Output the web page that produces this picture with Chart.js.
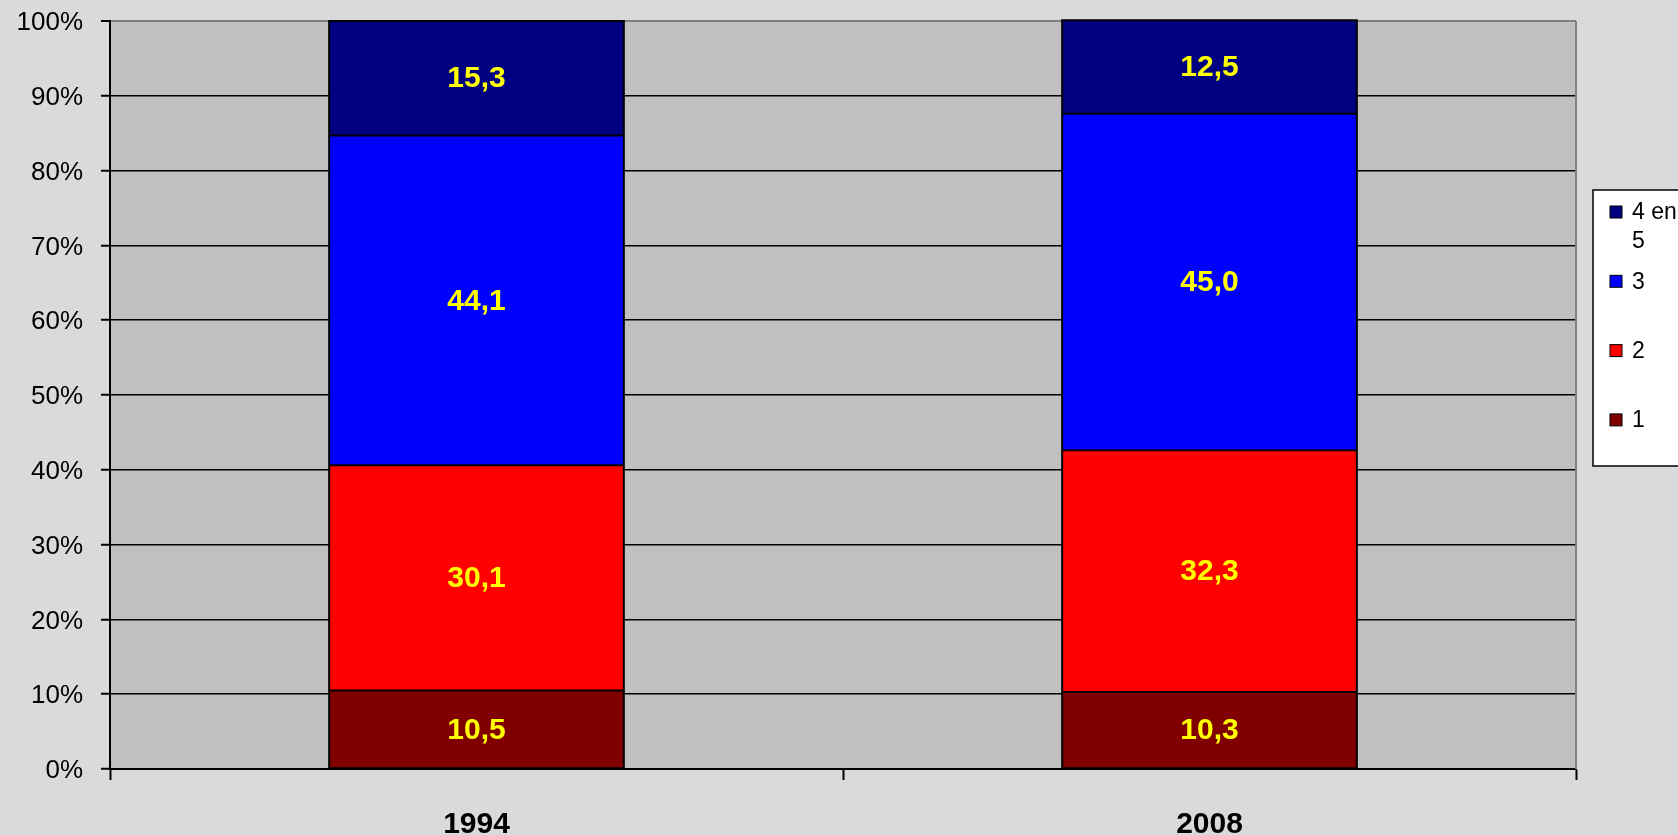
<!DOCTYPE html>
<html>
<head>
<meta charset="utf-8">
<script src="https://cdn.jsdelivr.net/npm/chart.js@4.4.1/dist/chart.umd.min.js"></script>
<style>
  html, body { margin: 0; padding: 0; background: #D9DADC; }
  #wrap { width: 1678px; height: 835px; }
</style>
</head>
<body>
<div id="wrap"><canvas id="c" width="1678" height="835"></canvas></div>
<script>
const categories = ['1994', '2008'];
const seriesLabels = ['1', '2', '3', '4 en 5'];
const series1 = [10.5, 10.3];
const series2 = [30.1, 32.3];
const series3 = [44.1, 45.0];
const series45 = [15.3, 12.5];
const yTicks = [0, 10, 20, 30, 40, 50, 60, 70, 80, 90, 100];

const colors = ['#800000', '#FF0000', '#0000FF', '#000080'];
const FONT = "'Liberation Sans', Arial, sans-serif";

const bgPlugin = {
  id: 'bg',
  beforeDraw(chart) {
    const { ctx, chartArea: a } = chart;
    ctx.save();
    ctx.fillStyle = '#D9DADC';
    ctx.fillRect(0, 0, chart.width, chart.height);
    ctx.fillStyle = '#C0C0C0';
    ctx.fillRect(a.left, a.top, a.right - a.left, a.bottom - a.top);
    ctx.restore();
  },
  beforeDatasetsDraw(chart) {
    const { ctx, chartArea: a } = chart;
    ctx.save();
    ctx.strokeStyle = '#808080';
    ctx.lineWidth = 2;
    ctx.beginPath();
    ctx.moveTo(a.right, a.top);
    ctx.lineTo(a.right, a.bottom);
    ctx.stroke();
    ctx.restore();
  }
};

const labelPlugin = {
  id: 'vals',
  afterDatasetsDraw(chart) {
    const { ctx } = chart;
    ctx.save();
    const n = chart.data.datasets.length;
    const first = chart.getDatasetMeta(0);
    const last = chart.getDatasetMeta(n - 1);
    ctx.strokeStyle = '#000';
    ctx.lineWidth = 2;
    for (let d = 0; d < n - 1; d++) {
      chart.getDatasetMeta(d).data.forEach(bar => {
        const l = bar.x - bar.width / 2;
        ctx.beginPath();
        ctx.moveTo(l, bar.y);
        ctx.lineTo(l + bar.width, bar.y);
        ctx.stroke();
      });
    }
    first.data.forEach((bar, i) => {
      const top = last.data[i];
      const left = bar.x - bar.width / 2;
      ctx.strokeRect(left, top.y, bar.width, bar.base - top.y);
    });
    ctx.font = "bold 30px " + FONT;
    ctx.fillStyle = '#FFFF00';
    ctx.textAlign = 'center';
    ctx.textBaseline = 'middle';
    chart.data.datasets.forEach((ds, di) => {
      const meta = chart.getDatasetMeta(di);
      meta.data.forEach((bar, i) => {
        const v = ds.data[i];
        const yc = (bar.y + bar.base) / 2;
        ctx.fillText(v.toFixed(1).replace('.', ','), bar.x, yc + 1);
      });
    });
    ctx.restore();
  }
};

const legendPlugin = {
  id: 'legendBox',
  afterDraw(chart) {
    const { ctx } = chart;
    ctx.save();
    ctx.fillStyle = '#FFFFFF';
    ctx.fillRect(1593, 190, 140, 276);
    ctx.strokeStyle = '#000000';
    ctx.lineWidth = 1.5;
    ctx.strokeRect(1593, 190, 140, 276);
    ctx.font = "23px " + FONT;
    ctx.textBaseline = 'middle';
    ctx.textAlign = 'left';
    const items = chart.data.datasets.slice().reverse();
    items.forEach((ds, i) => {
      const y = 212 + i * 69.3;
      ctx.fillStyle = ds.backgroundColor;
      ctx.fillRect(1610, y - 6, 12, 12);
      ctx.strokeStyle = '#000';
      ctx.lineWidth = 1;
      ctx.strokeRect(1610, y - 6, 12, 12);
      const words = ds.label.split(' ');
      const lines = [];
      let cur = '';
      words.forEach(w => {
        const t = cur ? cur + ' ' + w : w;
        if (cur && ctx.measureText(t).width > 50) { lines.push(cur); cur = w; }
        else cur = t;
      });
      if (cur) lines.push(cur);
      ctx.fillStyle = '#000';
      lines.forEach((ln, j) => ctx.fillText(ln, 1632, y + 1 + j * 29));
    });
    ctx.restore();
  }
};

const data = {
  labels: categories,
  datasets: [
    { label: seriesLabels[0], data: series1, backgroundColor: colors[0] },
    { label: seriesLabels[1], data: series2, backgroundColor: colors[1] },
    { label: seriesLabels[2], data: series3, backgroundColor: colors[2] },
    { label: seriesLabels[3], data: series45, backgroundColor: colors[3] }
  ].map(d => Object.assign(d, {
    borderWidth: 0,
    categoryPercentage: 1.0,
    barPercentage: 0.402
  }))
};

new Chart(document.getElementById('c'), {
  type: 'bar',
  data,
  plugins: [bgPlugin, labelPlugin, legendPlugin],
  options: {
    responsive: false,
    animation: false,
    devicePixelRatio: 1,
    layout: { padding: { top: 21, right: 102, left: 0, bottom: 0 } },
    plugins: { legend: { display: false }, tooltip: { enabled: false } },
    scales: {
      x: {
        stacked: true,
        afterFit(s) { s.height = 66; s.paddingLeft = 0; s.paddingRight = 0; },
        grid: { display: true, drawOnChartArea: false, offset: true, tickLength: 11, tickColor: '#000', tickWidth: 2 },
        border: { display: true, color: '#000', width: 2 },
        ticks: { color: '#000', font: { family: FONT, size: 30, weight: 'bold' }, padding: 27 }
      },
      y: {
        stacked: true,
        min: 0,
        max: 100,
        afterFit(s) { s.width = 110; s.paddingTop = 0; s.paddingBottom = 0; },
        afterBuildTicks(s) { s.ticks = yTicks.map(v => ({ value: v })); },
        grid: {
          color: c => (c.tick && c.tick.value === 100) ? '#808080' : '#000',
          lineWidth: c => (c.tick && c.tick.value === 100) ? 2 : 1.5,
          tickColor: '#000',
          tickLength: 9,
          tickWidth: 2
        },
        border: { display: true, color: '#000', width: 2 },
        ticks: {
          color: '#000',
          font: { family: FONT, size: 26 },
          padding: 18,
          labelOffset: 2,
          callback: v => v + '%'
        }
      }
    }
  }
});
</script>
</body>
</html>
